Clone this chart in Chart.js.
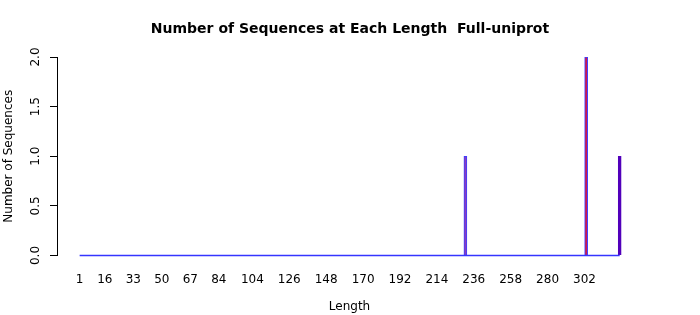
<!DOCTYPE html>
<html>
<head>
<meta charset="utf-8">
<script src="https://cdn.jsdelivr.net/npm/chart.js@4"></script>
<style>
  html, body { margin: 0; padding: 0; background: #fff; }
  #wrap { width: 700px; height: 315px; }
</style>
</head>
<body>
<div id="wrap"><canvas id="lengthChart" width="700" height="315"></canvas></div>
<script>
const lengths = [231, 303, 323];
const counts = [1, 2, 1];
const barFills = ['#8a3cc0', '#d0184a', '#5200bb'];
const barEdges = ['#3d3dff', '#3d3dff', '#5200bb'];
const lengthRange = [1, 323];
const xTickLabels = [1, 16, 33, 50, 67, 84, 104, 126, 148, 170, 192, 214, 236, 258, 280, 302];
const yTickLabels = [0, 0.5, 1, 1.5, 2];

Chart.defaults.font.family = '"DejaVu Sans", sans-serif';
Chart.defaults.font.size = 12;
Chart.defaults.color = '#000';

// R style rotated y tick labels
const rotatedYTicks = {
  id: 'rotatedYTicks',
  afterDraw(chart) {
    const y = chart.scales.y;
    const ctx = chart.ctx;
    ctx.save();
    ctx.font = '12px "DejaVu Sans", sans-serif';
    ctx.fillStyle = '#000';
    ctx.textAlign = 'center';
    ctx.textBaseline = 'middle';
    yTickLabels.forEach(v => {
      ctx.save();
      ctx.translate(36, y.getPixelForValue(v));
      ctx.rotate(-Math.PI / 2);
      ctx.fillText(v.toFixed(1), 0, 0);
      ctx.restore();
    });
    ctx.restore();
  }
};

const ctx = document.getElementById('lengthChart').getContext('2d');

new Chart(ctx, {
  type: 'bar',
  data: {
    datasets: [{
      type: 'bar',
      data: lengths.map((l, i) => ({ x: l, y: counts[i] })),
      backgroundColor: barFills,
      borderColor: barEdges,
      borderWidth: 1,
      barThickness: 3,
      order: 2
    }, {
      type: 'line',
      data: lengthRange.map(l => ({ x: l, y: 0 })),
      borderColor: '#3535ff',
      borderWidth: 1.5,
      pointRadius: 0,
      clip: false,
      order: 1
    }]
  },
  options: {
    responsive: false,
    animation: false,
    layout: { padding: 0 },
    plugins: {
      legend: { display: false },
      tooltip: { enabled: false },
      title: {
        display: true,
        text: 'Number of Sequences at Each Length  Full-uniprot',
        font: { size: 14, weight: 'bold' },
        color: '#000',
        padding: { top: 20.6, bottom: 19.6 }
      }
    },
    scales: {
      x: {
        type: 'linear',
        offset: false,
        min: -12.5,
        max: 336.3,
        grid: { display: false, drawTicks: false },
        border: { display: false },
        afterFit: (scale) => { scale.height = 59.5; },
        afterBuildTicks: (scale) => {
          scale.ticks = xTickLabels.map(v => ({ value: v }));
        },
        ticks: {
          autoSkip: false,
          maxRotation: 0,
          padding: 17,
          callback: (value) => String(value)
        },
        title: {
          display: true,
          text: 'Length',
          padding: { top: 0, bottom: 0.8 }
        }
      },
      y: {
        min: 0,
        max: 2,
        afterFit: (scale) => { scale.width = 57; },
        afterBuildTicks: (scale) => {
          scale.ticks = yTickLabels.map(v => ({ value: v }));
        },
        grid: {
          drawOnChartArea: false,
          drawTicks: true,
          tickLength: 7,
          color: '#000'
        },
        border: { display: true, color: '#000', width: 1 },
        ticks: { display: false },
        title: {
          display: true,
          text: 'Number of Sequences',
          padding: { top: 2, bottom: 0 }
        }
      },
      // empty right margin, like R's plot margin
      yRight: {
        position: 'right',
        min: 0,
        max: 2,
        afterFit: (scale) => { scale.width = 58; },
        grid: { display: false, drawTicks: false },
        border: { display: false },
        ticks: { display: false }
      }
    }
  },
  plugins: [rotatedYTicks]
});
</script>
</body>
</html>
